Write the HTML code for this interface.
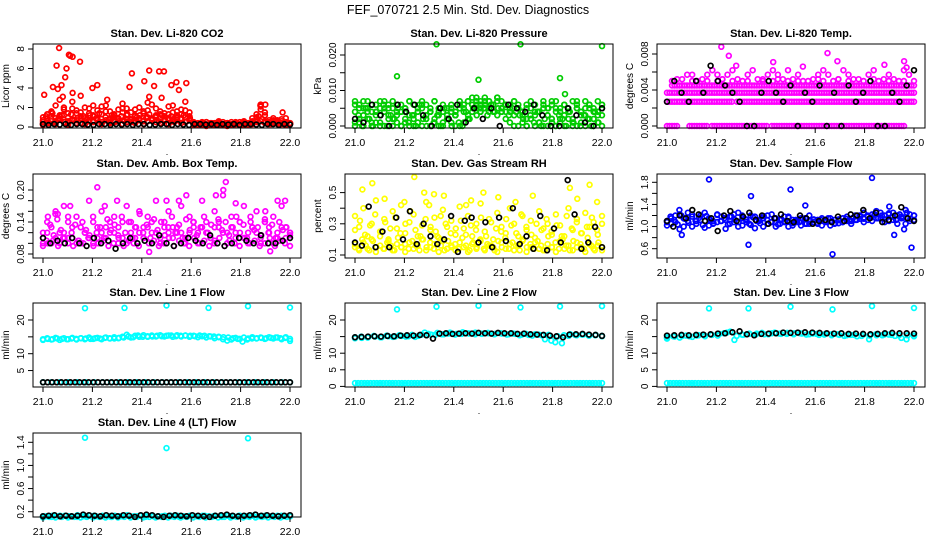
<!DOCTYPE html>
<html><head><meta charset="utf-8">
<style>
body{margin:0;background:#fff;}
svg{display:block;font-family:"Liberation Sans",sans-serif;}
</style></head>
<body>
<svg id="chart" width="936" height="540" viewBox="0 0 936 540" xmlns="http://www.w3.org/2000/svg">
<rect width="936" height="540" fill="#fff"/>
<text x="468" y="14" text-anchor="middle" font-size="12.5">FEF_070721  2.5 Min. Std. Dev. Diagnostics</text>
</svg>
<script>
// ---- data (x evenly spaced 21.0..22.0 unless explicit times given) ----
const xTickLabels=["21.0","21.2","21.4","21.6","21.8","22.0"];
const co2Red1=[0.5,1.3,0.8,2.2,1.1,1.8,0.6,2.6,1.4,3.2,0.9,1.9,1.2,0.7,2.1,1.6,0.5,1.0,1.8,2.4,0.8,1.5,1.1,2.0,0.6,1.7,2.3,1.2,0.9,1.4,2.1,0.8,1.6,1.3,2.6,0.7,0.4,0.3,0.5,0.2,0.4,0.3,0.6,0.2,0.4,0.3,0.5,0.3,0.2,0.4,0.6,0.8,2.1,1.5,0.7,0.9,0.5,0.8,0.4,0.3];
const co2Red2=[0.3,0.9,1.6,0.5,2.8,1.2,0.4,1.9,0.7,1.5,2.0,0.6,1.1,1.7,0.5,2.2,0.9,1.3,0.6,1.9,1.2,0.5,1.8,0.9,1.4,2.5,0.7,1.1,1.6,0.6,1.3,2.2,0.9,1.8,1.0,1.5,0.3,0.2,0.4,0.5,0.3,0.2,0.4,0.3,0.2,0.5,0.4,0.3,0.6,0.4,0.9,1.3,2.3,0.6,0.5,0.7,0.4,0.6,0.9,0.3];
const co2Red3=[0.2,0.4,0.6,0.3,0.8,0.5,0.2,0.7,0.4,0.9,0.3,0.6,0.5,0.8,0.3,0.7,0.4,0.6,0.9,0.3,0.5,0.8,0.4,0.7,0.3,0.6,0.9,0.5,0.4,0.8,0.3,0.6,0.7,0.4,0.5,0.8,0.2,0.3,0.2,0.1,0.3,0.2,0.2,0.3,0.1,0.2,0.3,0.2,0.3,0.2,0.3,0.5,0.6,0.4,0.3,0.5,0.3,0.4,0.2,0.3];
const co2Red4=[1.0,0.6,1.5,0.9,1.2,2.0,1.4,0.8,1.7,1.1,0.6,1.4,2.2,0.9,1.3,0.7,1.6,1.2,0.8,1.5,1.9,0.7,1.2,0.9,1.6,1.0,0.8,1.9,1.3,1.1,0.7,1.5,1.2,0.9,1.7,1.1,0.5,0.4,0.3,0.5,0.2,0.4,0.3,0.5,0.4,0.2,0.3,0.5,0.4,0.3,0.5,1.0,1.8,1.2,0.4,0.6,0.7,0.3,0.5,0.4];
const co2Red5=[0.7,1.1,0.4,1.4,0.6,0.9,1.2,0.5,1.0,1.3,0.7,0.9,0.4,1.1,0.8,1.2,0.6,0.9,1.4,0.5,1.0,0.7,1.2,0.5,0.9,1.1,0.6,1.3,0.8,0.5,1.0,1.2,0.6,0.9,1.3,0.8,1.0,0.6,1.2,0.7,0.9,1.1,0.5,1.0,0.8,1.2,0.6,0.9,0.4,0.3,0.2,0.4,0.3,0.2,0.4,0.3,0.5,0.2,0.3,0.4,0.2,0.3,0.4,0.2,0.5,0.3,0.2,0.4,0.6,1.1,0.8,0.5,0.4,0.3,0.5,0.6,0.4,0.3,0.5,0.4];
const co2OutT=[21.005,21.04,21.055,21.065,21.06,21.075,21.09,21.095,21.105,21.11,21.12,21.15,21.2,21.22,21.35,21.36,21.41,21.43,21.45,21.47,21.49,21.52,21.54,21.58,21.55,21.12,21.08,21.26,21.48,21.43,21.9,21.88,21.97];
const co2OutV=[3.3,4.1,6.3,8.1,3.9,4.3,5.1,6.0,7.4,7.3,7.2,6.7,4.0,4.3,4.1,5.5,4.7,5.8,4.2,5.7,5.7,4.3,4.6,4.5,3.8,3.5,3.1,2.8,3.0,3.1,2.3,2.2,1.5];
const co2Black=[0.3,0.2,0.3,0.25,0.3,0.2,0.3,0.3,0.25,0.2,0.3,0.3,0.2,0.3,0.25,0.3,0.2,0.3,0.3,0.2,0.25,0.3,0.3,0.2,0.3,0.25,0.2,0.3,0.3,0.25,0.3,0.2,0.3,0.25,0.3,0.2,0.3,0.3,0.25,0.2,0.3,0.3,0.2,0.3,0.25];

const presGreen1=[0.006,0.002,0.007,0.004,0.001,0.006,0.003,0.007,0.005,0.002,0.006,0.004,0.001,0.007,0.003,0.005,0.006,0.002,0.004,0.007,0.003,0.001,0.005,0.006,0.003,0.007,0.004,0.002,0.006,0.008,0.005,0.007,0.004,0.006,0.008,0.005,0.006,0.004,0.007,0.005,0.003,0.006,0.002,0.004,0.001,0.006,0.003,0.007,0.005,0.002,0.006,0.004,0.001,0.007,0.003,0.005,0.006,0.002,0.004,0.006];
const presGreen2=[0,0.001,0,0.002,0,0.001,0,0,0.003,0,0.001,0,0.002,0,0,0.001,0,0.002,0,0.001,0,0,0.002,0.001,0,0,0.001,0.003,0.004,0.005,0.004,0.006,0.005,0.004,0.003,0.004,0.002,0.001,0,0,0.001,0,0.002,0,0.001,0,0,0.002,0,0.001,0,0.002,0,0,0.001,0,0.002,0,0.001,0];
const presGreen3=[0.004,0.005,0.003,0.005,0.004,0.003,0.005,0.004,0.002,0.005,0.003,0.004,0.005,0.003,0.002,0.004,0.005,0.003,0.004,0.002,0.005,0.004,0.003,0.005,0.004,0.006,0.005,0.007,0.006,0.007,0.006,0.008,0.007,0.006,0.007,0.005,0.004,0.006,0.003,0.005,0.004,0.002,0.005,0.003,0.004,0.005,0.003,0.002,0.004,0.005,0.003,0.004,0.002,0.005,0.004,0.003,0.005,0.004,0.003,0.005];
const presGreen4=[0.001,0.003,0.0,0.005,0.002,0.0,0.004,0.001,0.006,0.0,0.003,0.002,0.005,0.0,0.004,0.001,0.003,0.0,0.006,0.002,0.0,0.004,0.001,0.003,0.0,0.005,0.002,0.0,0.003,0.001,0.0,0.004,0.002,0.005,0.003,0.004,0.005,0.003,0.006,0.004,0.005,0.004,0.006,0.003,0.005,0.004,0.003,0.002,0.0,0.003,0.001,0.004,0.0,0.002,0.005,0.001,0.0,0.003,0.002,0.0,0.004,0.001,0.005,0.0,0.003,0.002,0.0,0.004,0.001,0.003];
const presGreen5=[0.007,0.006,0.005,0.007,0.006,0.004,0.007,0.005,0.006,0.007,0.004,0.006,0.005,0.007,0.006,0.004,0.007,0.006,0.005,0.007,0.004,0.006,0.002,0.004,0.003,0.005,0.006,0.007,0.008,0.006,0.007,0.005,0.007,0.006,0.008,0.007,0.006,0.005,0.007,0.006,0.004,0.005,0.007,0.006,0.004,0.007,0.005,0.006,0.007,0.004,0.006,0.005,0.007,0.006,0.004,0.007,0.006,0.005,0.007,0.006];
const presOutT=[21.17,21.33,21.5,21.67,21.83,21.85,22.0];
const presOutV=[0.014,0.023,0.013,0.023,0.0135,0.009,0.0225];
const presBlack=[0.002,0.001,0.006,0.003,0.0,0.006,0.004,0.006,0.003,0.0,0.005,0.002,0.006,0.001,0.005,0.002,0.005,0.0,0.006,0.005,0.004,0.006,0.003,0.0,0.0,0.005,0.003,0.001,0.0,0.005];

const tempRow0=[0,0,0,0,0,null,null,null,null,0,0,0,0,0,0,0,0,null,0,0,0,0,0,0,0,0,0,0,0,0,0,0,0,0,0,0,0,0,0,0,0,null,0,0,0,0,0,0,0,0,0,0,0,0,0,0,0,0,0,0,0,0,0,0,0,0,0,0,0,0,0,0,0,0,0,0,0,0,0,0,0,0,0,0,0,0,0,0,0,0,0,0,0,0,0,0,null,null,null,null];
const tempRow1=[0.0027,0.0027,0.0027,0.0027,0.0027,0.0027,0.0027,0.0027,0.0027,0.0027,0.0027,0.0027,0.0027,0.0027,0.0027,0.0027,0.0027,0.0027,0.0027,0.0027,0.0027,0.0027,0.0027,0.0027,0.0027,0.0027,0.0027,null,0.0027,0.0027,0.0027,0.0027,0.0027,0.0027,0.0027,0.0027,0.0027,0.0027,0.0027,0.0027,0.0027,0.0027,0.0027,0.0027,0.0027,0.0027,0.0027,0.0027,0.0027,0.0027,0.0027,0.0027,0.0027,0.0027,0.0027,0.0027,0.0027,0.0027,0.0027,0.0027,0.0027,0.0027,0.0027,0.0027,0.0027,0.0027,0.0027,0.0027,0.0027,0.0027,0.0027,0.0027,0.0027,0.0027,0.0027,0.0027,0.0027,0.0027,0.0027,0.0027,0.0027,0.0027,0.0027,0.0027,0.0027,0.0027,0.0027,0.0027,0.0027,0.0027,0.0027,0.0027,0.0027,0.0027,0.0027,0.0027,0.0027,0.0027,0.0027,0.0027];
const tempRow2=[0.0037,0.0037,0.0037,0.0037,0.0037,0.0037,0.0037,0.0037,0.0037,0.0037,0.0037,0.0037,0.0037,0.0037,0.0037,0.0037,0.0037,0.0037,0.0037,0.0037,0.0037,0.0037,0.0037,0.0037,0.0037,0.0037,0.0037,0.0037,0.0037,0.0037,0.0037,0.0037,0.0037,0.0037,0.0037,0.0037,0.0037,0.0037,0.0037,0.0037,0.0037,0.0037,0.0037,0.0037,0.0037,0.0037,0.0037,0.0037,0.0037,0.0037,0.0037,0.0037,0.0037,0.0037,0.0037,0.0037,0.0037,0.0037,0.0037,0.0037,0.0037,0.0037,0.0037,0.0037,0.0037,0.0037,0.0037,0.0037,0.0037,0.0037,0.0037,0.0037,0.0037,0.0037,0.0037,0.0037,0.0037,0.0037,0.0037,0.0037,0.0037,0.0037,0.0037,0.0037,0.0037,0.0037,0.0037,0.0037,0.0037,0.0037,0.0037,0.0037,0.0037,0.0037,0.0037,0.0037,0.0037,0.0037,0.0037,0.0037];
const tempRow3=[null,null,0.0045,0.0045,0.0045,0.0045,0.0045,0.0045,0.0045,0.0045,0.0045,0.0045,0.0045,0.0045,0.0045,0.0045,0.0045,0.0045,0.0045,0.0045,0.0045,0.0045,0.0045,0.0045,0.0045,0.0045,0.0045,0.0045,0.0045,0.0045,0.0045,0.0045,0.0045,0.0045,0.0045,0.0045,0.0045,0.0045,0.0045,0.0045,0.0045,0.0045,0.0045,0.0045,0.0045,0.0045,0.0045,0.0045,0.0045,0.0045,0.0045,0.0045,0.0045,0.0045,0.0045,0.0045,0.0045,0.0045,0.0045,0.0045,0.0045,0.0045,0.0045,0.0045,0.0045,0.0045,0.0045,0.0045,0.0045,0.0045,0.0045,0.0045,0.0045,0.0045,0.0045,0.0045,0.0045,0.0045,0.0045,0.0045,0.0045,0.0045,0.0045,0.0045,0.0045,0.0045,0.0045,0.0045,0.0045,0.0045,0.0045,0.0045,0.0045,0.0045,0.0045,0.0045,0.0045,0.0045,0.0045,0.0045];
const tempRow4=[null,null,0.0052,null,0.0057,0.0057,0.005,null,0.0057,0.0062,0.0057,0.0052,0.0057,0.0062,null,0.005,0.0057,0.0062,null,0.0052,0.0057,0.0062,0.0057,0.0052,0.0062,null,0.0057,0.005,null,0.0052,0.0057,0.0062,0.0057,null,0.0052,0.0062,0.0057,null,0.0052,null,0.0057,0.0062,null,0.0052,0.0057,null,0.005,0.0062,0.0057,null];
const tempRow5=[null,0.005,null,0.0052,null,0.005,null,0.0052,0.005,null,0.005,0.0052,null,0.005,0.0052,null,0.005,null,0.0052,0.005,null,0.005,0.0052,null,0.005,0.0052,0.005,null,0.005,null,0.0052,0.005,null,0.005,0.0052,null,0.005,0.0052,null,0.005,null,0.0052,0.005,null,0.005,0.0052,null,0.005,null,0.005];
const tempOutT=[21.22,21.25,21.43,21.65,21.69,21.88,21.96,21.97,21.28,21.55];
const tempOutV=[0.0088,0.0078,0.0071,0.0081,0.0072,0.0068,0.0072,0.0065,0.0067,0.0066];
const tempBlack=[0.0027,0.005,0.0037,0.0027,0.005,0.0037,0.0067,0.005,0.0045,0.0037,0.0027,0.0,0.0,0.0037,0.005,0.0037,0.0027,0.0045,0.0,0.0037,0.0027,0.0045,0.0,0.0037,0.0,0.0045,0.0027,0.0037,0.005,0.0,0.0,0.0037,0.0027,0.0045,0.0062];

const ambMag1=[0.11,0.14,0.10,0.16,0.12,0.17,0.11,0.13,0.15,0.10,0.12,0.18,0.14,0.11,0.16,0.13,0.12,0.15,0.10,0.14,0.17,0.12,0.11,0.16,0.13,0.15,0.12,0.18,0.11,0.14,0.16,0.13,0.12,0.17,0.10,0.15,0.13,0.12,0.18,0.14,0.11,0.16,0.13,0.19,0.12,0.15,0.11,0.14,0.17,0.12,0.13,0.16,0.10,0.14,0.12,0.15,0.11,0.17,0.13,0.12];
const ambMag2=[0.10,0.12,0.13,0.11,0.10,0.12,0.14,0.11,0.10,0.13,0.12,0.11,0.10,0.13,0.12,0.11,0.14,0.12,0.13,0.11,0.10,0.14,0.13,0.12,0.11,0.13,0.14,0.12,0.10,0.13,0.12,0.11,0.13,0.12,0.11,0.12,0.14,0.10,0.13,0.12,0.11,0.13,0.14,0.12,0.10,0.13,0.12,0.14,0.11,0.10,0.13,0.12,0.11,0.14,0.13,0.10,0.12,0.13,0.11,0.12];
const ambMag3=[0.12,0.105,0.135,0.115,0.145,0.125,0.11,0.15,0.12,0.135,0.105,0.14,0.125,0.115,0.15,0.12,0.13,0.11,0.145,0.125,0.135,0.115,0.15,0.12,0.14,0.11,0.13,0.155,0.12,0.135,0.11,0.145,0.125,0.14,0.115,0.13,0.15,0.12,0.135,0.11,0.145,0.125,0.14,0.115,0.13,0.15,0.12,0.135,0.105,0.145,0.125,0.14,0.115,0.13,0.15,0.12,0.135,0.11,0.14,0.125,0.13,0.115,0.145,0.12,0.135,0.11,0.14,0.125,0.13,0.115];
const ambMag4=[0.095,0.1,0.105,0.095,0.11,0.1,0.095,0.105,0.1,0.11,0.095,0.1,0.105,0.095,0.1,0.11,0.095,0.105,0.1,0.095,0.11,0.1,0.105,0.095,0.1,0.11,0.095,0.105,0.1,0.095,0.11,0.1,0.105,0.095,0.1,0.11,0.095,0.105,0.1,0.095,0.11,0.1,0.105,0.095,0.1,0.11,0.095,0.105,0.1,0.095];
const ambOutT=[21.02,21.05,21.11,21.22,21.25,21.3,21.43,21.5,21.55,21.58,21.7,21.73,21.74,21.78,21.84,21.9,21.95,21.98,21.92,21.06];
const ambOutV=[0.15,0.155,0.17,0.205,0.17,0.18,0.084,0.18,0.18,0.19,0.19,0.20,0.215,0.175,0.15,0.16,0.18,0.18,0.085,0.155];
const ambBlack=[0.11,0.10,0.105,0.10,0.11,0.10,0.095,0.11,0.10,0.105,0.09,0.10,0.11,0.10,0.105,0.10,0.115,0.10,0.095,0.10,0.11,0.105,0.10,0.115,0.10,0.095,0.10,0.11,0.105,0.10,0.115,0.10,0.10,0.105,0.11];

const rhYel1=[0.15,0.13,0.18,0.14,0.2,0.12,0.16,0.14,0.19,0.13,0.17,0.15,0.12,0.18,0.14,0.16,0.2,0.13,0.15,0.17,0.12,0.19,0.14,0.16,0.13,0.18,0.15,0.12,0.17,0.14,0.19,0.13,0.16,0.15,0.12,0.18,0.14,0.17,0.13,0.16,0.19,0.12,0.15,0.18,0.14,0.13,0.17,0.15,0.12,0.19,0.14,0.16,0.13,0.18,0.15,0.12,0.17,0.14,0.16,0.13];
const rhYel2=[0.35,0.28,0.4,0.22,0.3,0.45,0.25,0.33,0.2,0.38,0.27,0.42,0.24,0.31,0.36,0.22,0.29,0.44,0.26,0.34,0.21,0.39,0.28,0.32,0.23,0.41,0.27,0.35,0.22,0.3,0.43,0.25,0.33,0.2,0.37,0.28,0.24,0.4,0.3,0.22,0.35,0.26,0.32,0.21,0.38,0.27,0.3,0.23,0.36,0.29,0.22,0.4,0.26,0.33,0.24,0.37,0.28,0.31,0.23,0.35];
const rhYel3=[0.17,0.14,0.2,0.16,0.13,0.19,0.15,0.22,0.14,0.18,0.16,0.13,0.21,0.15,0.17,0.14,0.19,0.16,0.13,0.2,0.15,0.18,0.14,0.22,0.16,0.13,0.19,0.15,0.17,0.14,0.21,0.16,0.13,0.18,0.15,0.2,0.14,0.17,0.16,0.13,0.19,0.15,0.21,0.14,0.18,0.16,0.13,0.2,0.15,0.17,0.14,0.19,0.16,0.13,0.22,0.15,0.18,0.14,0.2,0.16,0.13,0.19,0.15,0.17,0.14,0.21,0.16,0.13,0.18,0.15];
const rhYel4=[0.26,0.32,0.23,0.29,0.36,0.25,0.31,0.27,0.34,0.24,0.3,0.38,0.26,0.22,0.33,0.28,0.25,0.35,0.3,0.24,0.27,0.32,0.23,0.29,0.26,0.34,0.22,0.31,0.27,0.25,0.33,0.29,0.24,0.36,0.28,0.23,0.3,0.26,0.33,0.25,0.29,0.22,0.35,0.27,0.31,0.24,0.28,0.34,0.26,0.3];
const rhOutT=[21.03,21.07,21.12,21.2,21.24,21.28,21.3,21.32,21.36,21.45,21.52,21.58,21.65,21.72,21.87,21.9,21.95,21.98,21.47];
const rhOutV=[0.52,0.56,0.46,0.44,0.6,0.5,0.42,0.49,0.48,0.42,0.5,0.47,0.44,0.48,0.53,0.46,0.55,0.44,0.45];
const rhBlack=[0.18,0.16,0.41,0.15,0.25,0.15,0.34,0.2,0.38,0.17,0.3,0.22,0.17,0.2,0.35,0.12,0.32,0.34,0.18,0.31,0.15,0.34,0.19,0.4,0.17,0.22,0.14,0.35,0.13,0.27,0.18,0.58,0.36,0.14,0.18,0.28,0.15];

const flowBlue1=[1.1,1.05,1.2,0.95,1.15,1.25,1.0,1.1,1.2,0.98,1.15,1.05,1.22,1.1,0.96,1.18,1.08,1.25,1.02,1.12,1.2,0.97,1.1,1.15,1.05,1.22,1.0,1.12,1.08,1.18,1.02,1.1,1.15,1.05,1.2,1.08,1.12,1.02,1.1,1.15,1.05,1.12,1.08,1.18,1.1,1.2,1.14,1.25,1.12,1.22,1.28,1.15,1.2,1.1,1.25,1.05,1.18,1.3,1.1,1.2];
const flowBlue2=[1.02,1.15,1.08,1.22,1.0,1.1,1.18,1.05,1.12,1.25,1.02,1.1,1.08,1.18,1.12,1.05,1.22,1.0,1.15,1.08,1.03,1.18,1.12,1.0,1.2,1.08,1.15,1.05,1.18,1.0,1.12,1.08,1.02,1.15,1.05,1.12,1.05,1.15,1.08,1.02,1.12,1.06,1.15,1.1,1.05,1.12,1.2,1.08,1.18,1.1,1.15,1.25,1.08,1.22,1.12,1.2,1.15,1.05,1.22,1.12];
const flowBlue3=[1.08,1.18,1.12,1.04,1.2,1.14,1.07,1.22,1.1,1.16,1.03,1.19,1.12,1.06,1.21,1.1,1.15,1.04,1.18,1.12,1.08,1.2,1.13,1.05,1.17,1.1,1.06,1.19,1.12,1.08,1.15,1.04,1.13,1.09,1.16,1.06,1.12,1.08,1.14,1.05,1.1,1.13,1.07,1.12,1.09,1.15,1.1,1.06,1.13,1.08,1.14,1.1,1.16,1.12,1.18,1.14,1.2,1.16,1.22,1.15,1.2,1.13,1.24,1.18,1.12,1.22,1.16,1.25,1.14,1.2];
const flowOutT=[21.17,21.33,21.34,21.5,21.67,21.83,21.99,21.06,21.56,21.05,21.96,21.92,21.9];
const flowOutV=[1.85,0.67,1.55,1.67,0.5,1.88,0.62,0.85,1.38,1.3,0.95,0.85,1.36];
const flowBlack=[1.1,1.0,1.2,1.15,1.3,1.22,1.1,1.15,0.92,1.2,1.28,1.1,1.18,1.25,1.12,1.2,1.05,1.15,1.22,1.1,1.08,1.2,1.15,1.05,1.1,1.12,1.08,1.18,1.1,1.22,1.2,1.3,1.15,1.25,1.08,1.12,1.2,1.35,1.15,1.1];

const line1CyanHi=[14.3,14.4,14.3,14.5,14.4,14.3,14.5,14.4,14.6,14.5,14.4,14.6,14.5,14.7,14.6,14.5,14.7,14.8,15.1,14.9,15.4,15.0,15.2,15.1,15.3,15.2,15.3,15.4,15.2,15.3,15.4,15.3,15.2,15.4,15.3,15.2,15.1,15.0,14.9,14.8,14.6,14.4,13.6,14.2,14.5,14.6,14.7,14.6,14.7,14.8,14.6,14.7,13.8];
const line1CyanHi2=[14.1,14.6,14.2,14.7,14.1,14.6,14.3,14.7,14.2,14.6,14.3,14.8,14.4,14.7,14.3,14.8,14.5,14.9,14.6,15.0,15.6,14.8,15.3,15.0,15.5,15.0,15.4,15.1,15.5,15.1,15.4,15.0,15.5,15.1,15.4,15.0,15.3,14.9,15.2,14.8,15.1,14.6,14.9,14.3,13.9,14.2,14.7,14.4,14.8,14.5,14.9,14.5,14.8,14.4,14.9,14.5,14.8,14.3,14.9,14.4];
const line1CyanLo=[1.5,1.5,1.5,1.5,1.5,1.5,1.5,1.5,1.5,1.5,1.5,1.5,1.5,1.5,1.5,1.5,1.5,1.5,1.5,1.5,1.5,1.5,1.5,1.5,1.5,1.5,1.5,1.5,1.5,1.5];
const line1Black=[1.5,1.5,1.5,1.5,1.5,1.5,1.5,1.5,1.5,1.5,1.5,1.5,1.5,1.5,1.5,1.5,1.5,1.5,1.5,1.5,1.5,1.5,1.5,1.5,1.5,1.5,1.5,1.5,1.5,1.5,1.5,1.5,1.5,1.5,1.5,1.5,1.5,1.5,1.5,1.5,1.5,1.5,1.5,1.5,1.5,1.5,1.5,1.5,1.5,1.5,1.5,1.5,1.5,1.5,1.5];
const flowOut6T=[21.17,21.33,21.5,21.67,21.83,22.0];
const line1OutV=[23.5,23.6,24.3,23.6,24.1,23.7];

const line2CyanHi=[14.8,14.6,14.9,15.0,14.8,15.1,15.0,15.2,15.1,14.9,15.6,15.8,15.5,15.7,15.9,15.6,15.8,16.0,15.7,15.9,16.0,15.8,15.9,15.7,15.8,15.6,15.5,15.7,15.4,15.5,13.3,13.0,15.2,15.5,15.6,15.3,15.4,15.2];
const line2CyanHi2=[14.5,15.0,14.7,15.2,14.8,15.3,14.9,15.4,15.0,15.5,15.2,16.2,15.6,16.1,15.7,16.2,15.8,16.3,15.9,16.2,15.8,16.1,15.7,16.0,15.6,15.9,15.4,15.8,15.3,15.6,14.2,13.8,15.1,15.4,15.7,15.4,15.6,15.3,15.5,15.1];
const line2CyanLo=[1,1,1,1,1,1,1,1,1,1,1,1,1,1,1,1,1,1,1,1,1,1,1,1,1,1,1,1,1,1,1,1,1,1,1,1,1,1,1,1,1,1,1,1,1,1,1,1,1,1,1,1,1,1,1,1,1,1,1,1,1,1,1,1,1,1,1,1,1,1,1,1,1,1,1,1,1,1,1,1];
const line2Black=[14.8,14.9,15.0,15.1,15.0,15.2,15.1,15.3,15.4,15.3,15.5,15.4,14.4,15.9,16.0,15.8,15.9,16.0,15.9,16.1,16.0,15.9,16.1,16.0,16.0,15.8,15.9,15.7,15.6,15.5,15.3,15.1,14.8,15.6,15.7,15.8,15.6,15.5,15.2];
const line2OutV=[23.2,24.0,24.3,23.8,24.1,24.2];

const line3CyanHi=[14.8,15.0,15.2,15.1,15.3,15.4,15.5,15.8,16.2,14.0,15.6,15.8,15.9,15.7,16.0,15.9,15.8,16.0,15.9,15.7,15.8,15.6,15.7,15.5,15.4,15.5,15.2,14.2,15.4,15.6,15.5,15.4,14.2,15.3];
const line3CyanHi2=[14.4,15.1,14.7,15.3,14.9,15.4,15.1,15.6,15.3,16.0,16.5,15.2,15.5,15.9,15.6,16.1,15.7,16.2,15.8,16.1,15.7,16.0,15.6,15.9,15.5,15.8,15.4,15.7,15.2,15.5,15.1,15.6,15.3,15.7,15.4,15.6,15.2,14.6,15.4,15.1];
const line3CyanLo=[1,1,1,1,1,1,1,1,1,1,1,1,1,1,1,1,1,1,1,1,1,1,1,1,1,1,1,1,1,1,1,1,1,1,1,1,1,1,1,1,1,1,1,1,1,1,1,1,1,1,1,1,1,1,1,1,1,1,1,1,1,1,1,1,1,1,1,1,1,1,1,1,1,1,1,1,1,1,1,1];
const line3Black=[15.3,15.4,15.5,15.4,15.5,15.6,15.7,15.9,16.0,16.3,16.6,15.7,15.4,15.8,15.9,16.0,16.2,16.1,16.2,16.3,16.2,16.1,16.0,15.9,16.0,15.8,15.9,15.8,15.7,15.8,16.0,16.1,16.0,16.0,15.9];
const line3OutV=[23.5,23.5,24.0,23.2,24.2,23.6];

const line4Cyan=[0.12,0.11,0.13,0.12,0.11,0.12,0.13,0.12,0.11,0.12,0.13,0.12,0.11,0.12,0.12,0.13,0.11,0.12,0.12,0.13,0.12,0.11,0.12,0.13,0.12,0.11,0.12,0.12,0.13,0.12];
const line4Cyan2=[0.1,0.12,0.11,0.13,0.1,0.12,0.11,0.13,0.1,0.12,0.11,0.14,0.1,0.12,0.11,0.13,0.1,0.12,0.11,0.13,0.1,0.12,0.11,0.13,0.1,0.12,0.11,0.14,0.1,0.12,0.11,0.13,0.1,0.12,0.11,0.13,0.1,0.12,0.11,0.13,0.1,0.12,0.11,0.13,0.1,0.12,0.11,0.13,0.1,0.12,0.11,0.13,0.1,0.12,0.11,0.13,0.1,0.12,0.11,0.13,0.1,0.12,0.11,0.13,0.1,0.12,0.11,0.13,0.1,0.12,0.11,0.13,0.1,0.12,0.11,0.13,0.1,0.12,0.11,0.12];
const line4Black=[0.12,0.13,0.14,0.12,0.13,0.12,0.13,0.15,0.14,0.13,0.12,0.14,0.13,0.12,0.14,0.13,0.11,0.14,0.15,0.14,0.12,0.11,0.13,0.14,0.13,0.12,0.14,0.13,0.12,0.11,0.13,0.14,0.15,0.13,0.12,0.13,0.14,0.15,0.13,0.14,0.13,0.12,0.13,0.14];
const line4OutT=[21.17,21.5,21.83];
const line4OutV=[1.48,1.3,1.47];

// ---- layout ----
const NS="http://www.w3.org/2000/svg";
const svg=document.getElementById('chart');
const colLeft=[33,345,657], rowTop=[44,174,303,433], PW=268, PH=84;
function mk(tag,attrs,parent){const e=document.createElementNS(NS,tag);for(const k in attrs)e.setAttribute(k,attrs[k]);(parent||svg).appendChild(e);return e;}
function even(n){const a=[];for(let i=0;i<n;i++)a.push(21+i/(n-1));return a;}

const panels=[
 {c:0,r:0,title:"Stan. Dev. Li-820 CO2",ylab:"Licor ppm",ticks:[0,2,4,6,8],labels:["0","2","4","6","8"],ym:[0,83,8,5],
  series:[{y:co2Red1,col:"#f00"},{y:co2Red2,col:"#f00"},{y:co2Red3,col:"#f00"},{y:co2Red4,col:"#f00"},{y:co2Red5,col:"#f00"},{t:co2OutT,y:co2OutV,col:"#f00"},{y:co2Black,col:"#000"}]},
 {c:1,r:0,title:"Stan. Dev. Li-820 Pressure",ylab:"kPa",ticks:[0,0.005,0.01,0.015,0.02],labels:["0.000","","0.010","","0.020"],ym:[0,82,0.02,11],
  series:[{y:presGreen1,col:"#0c0"},{y:presGreen2,col:"#0c0"},{y:presGreen3,col:"#0c0"},{y:presGreen4,col:"#0c0"},{y:presGreen5,col:"#0c0"},{t:presOutT,y:presOutV,col:"#0c0"},{y:presBlack,col:"#000"}]},
 {c:2,r:0,title:"Stan. Dev. Li-820 Temp.",ylab:"degrees C",ticks:[0,0.002,0.004,0.006,0.008],labels:["0.000","","0.004","","0.008"],ym:[0,82,0.008,10],
  series:[{y:tempRow0,col:"#f0f"},{y:tempRow1,col:"#f0f"},{y:tempRow2,col:"#f0f"},{y:tempRow3,col:"#f0f"},{y:tempRow4,col:"#f0f"},{y:tempRow5,col:"#f0f"},{t:tempOutT,y:tempOutV,col:"#f0f"},{y:tempBlack,col:"#000"}]},
 {c:0,r:1,title:"Stan. Dev. Amb. Box Temp.",ylab:"degrees C",ticks:[0.08,0.10,0.12,0.14,0.16,0.18,0.20],labels:["0.08","","","0.14","","","0.20"],ym:[0.08,80,0.20,16],
  series:[{y:ambMag1,col:"#f0f"},{y:ambMag2,col:"#f0f"},{y:ambMag3,col:"#f0f"},{y:ambMag4,col:"#f0f"},{t:ambOutT,y:ambOutV,col:"#f0f"},{y:ambBlack,col:"#000"}]},
 {c:1,r:1,title:"Stan. Dev. Gas Stream RH",ylab:"percent",ticks:[0.1,0.2,0.3,0.4,0.5],labels:["0.1","","0.3","","0.5"],ym:[0.1,81,0.5,18.6],
  series:[{y:rhYel1,col:"#ff0"},{y:rhYel2,col:"#ff0"},{y:rhYel3,col:"#ff0"},{y:rhYel4,col:"#ff0"},{t:rhOutT,y:rhOutV,col:"#ff0"},{y:rhBlack,col:"#000"}]},
 {c:2,r:1,title:"Stan. Dev. Sample Flow",ylab:"ml/min",ticks:[0.6,0.8,1.0,1.2,1.4,1.6,1.8],labels:["0.6","","1.0","","1.4","","1.8"],ym:[0.6,74.7,1.8,8.3],
  series:[{y:flowBlue1,col:"#00f"},{y:flowBlue2,col:"#00f"},{y:flowBlue3,col:"#00f"},{t:flowOutT,y:flowOutV,col:"#00f"},{y:flowBlack,col:"#000"}]},
 {c:0,r:2,title:"Stan. Dev. Line 1 Flow",ylab:"ml/min",ticks:[5,10,15,20],labels:["5","10","","20"],ym:[0,84.4,20,17],
  series:[{y:line1CyanHi,col:"#0ff"},{y:line1CyanHi2,col:"#0ff"},{y:line1CyanLo,col:"#0ff"},{t:flowOut6T,y:line1OutV,col:"#0ff"},{y:line1Black,col:"#000"}]},
 {c:1,r:2,title:"Stan. Dev. Line 2 Flow",ylab:"ml/min",ticks:[0,5,10,15,20],labels:["0","5","10","","20"],ym:[0,83.4,20,17],
  series:[{y:line2CyanLo,col:"#0ff"},{y:line2CyanHi,col:"#0ff"},{y:line2CyanHi2,col:"#0ff"},{t:flowOut6T,y:line2OutV,col:"#0ff"},{y:line2Black,col:"#000"}]},
 {c:2,r:2,title:"Stan. Dev. Line 3 Flow",ylab:"ml/min",ticks:[0,5,10,15,20],labels:["0","5","10","","20"],ym:[0,83.4,20,17],
  series:[{y:line3CyanLo,col:"#0ff"},{y:line3CyanHi,col:"#0ff"},{y:line3CyanHi2,col:"#0ff"},{t:flowOut6T,y:line3OutV,col:"#0ff"},{y:line3Black,col:"#000"}]},
 {c:0,r:3,title:"Stan. Dev. Line 4 (LT) Flow",ylab:"ml/min",ticks:[0.2,0.4,0.6,0.8,1.0,1.2,1.4],labels:["0.2","","0.6","","1.0","","1.4"],ym:[0.2,78.7,1.4,9.3],
  series:[{y:line4Cyan,col:"#0ff"},{y:line4Cyan2,col:"#0ff"},{y:line4Black,col:"#000"},{t:line4OutT,y:line4OutV,col:"#0ff"}]}
];

panels.forEach((p,pi)=>{
  const L=colLeft[p.c], T=rowTop[p.r];
  const g=mk('g',{});
  
  
  const xs=t=>L+10+(t-21)*247;
  const ys=v=>T+p.ym[1]+(v-p.ym[0])*(p.ym[3]-p.ym[1])/(p.ym[2]-p.ym[0]);
  const tt=mk('text',{x:L+PW/2,y:T-7,'text-anchor':'middle','font-size':'11','font-weight':'bold'},g);
  tt.textContent=p.title;
  
  
  const plot=mk('g',{},g);
  
  
  p.series.forEach(s=>{
    const ts=s.t||even(s.y.length);
    s.y.forEach((v,i)=>{
      if(v===null)return;
      const c=mk('circle',{cx:xs(ts[i]).toFixed(1),cy:ys(v).toFixed(1),r:2.4,fill:'none',stroke:s.col,'stroke-width':1.7},plot);
      
      
    });
  });
  const box=mk('rect',{x:L,y:T,width:PW,height:PH,fill:'none',stroke:'#000','stroke-width':1},g);
  
  
  const xa=mk('g',{},g);
  
  
  mk('line',{x1:xs(21),x2:xs(22),y1:T+PH,y2:T+PH,stroke:'#000'},xa);
  xTickLabels.forEach(lb=>{
    const x=xs(parseFloat(lb));
    mk('line',{x1:x,x2:x,y1:T+PH,y2:T+PH+5,stroke:'#000'},xa);
    const t=mk('text',{x:x,y:T+PH+18,'text-anchor':'middle','font-size':'10.5'},xa);
    t.textContent=lb;
    
    
  });
  mk('text',{x:L+PW/2,y:T+PH+27,'text-anchor':'middle','font-size':'9'},xa).textContent='.';
  const ya=mk('g',{},g);
  
  
  p.ticks.forEach((v,i)=>{
    const y=ys(v);
    mk('line',{x1:L-5,x2:L,y1:y,y2:y,stroke:'#000'},ya);
    if(p.labels[i]){
      const t=mk('text',{x:L-9,y:y,'text-anchor':'middle','font-size':'10',transform:'rotate(-90 '+(L-9)+' '+y+')'},ya);
      t.textContent=p.labels[i];
      
      
    }
  });
  const yt=mk('text',{x:L-24,y:T+PH/2,'text-anchor':'middle','font-size':'10',transform:'rotate(-90 '+(L-24)+' '+(T+PH/2)+')'},ya);
  yt.textContent=p.ylab;
  
  
});
</script>
</body></html>
